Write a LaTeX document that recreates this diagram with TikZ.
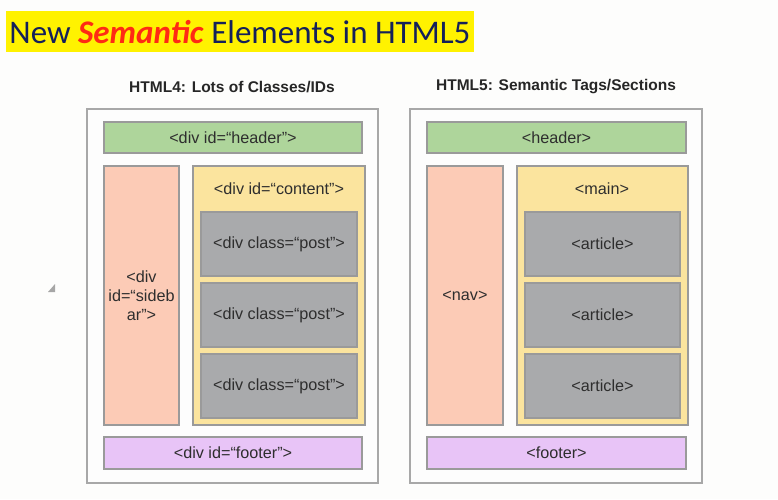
\documentclass[tikz,border=0pt]{standalone}
\usepackage{fontspec}
\setmainfont{Liberation Sans}
\newfontfamily\headfont{Carlito}
\definecolor{pagebg}{HTML}{FDFDFC}
\definecolor{bannerbg}{HTML}{FFF200}
\definecolor{navy}{HTML}{14205A}
\definecolor{hot}{HTML}{FF2A14}
\definecolor{frameline}{HTML}{A8A8A8}
\definecolor{framefill}{HTML}{FDFDFD}
\definecolor{boxline}{HTML}{9A9A9A}
\definecolor{hdr}{HTML}{AED59B}
\definecolor{side}{HTML}{FCCBB6}
\definecolor{cont}{HTML}{FBE49E}
\definecolor{post}{HTML}{A9AAAC}
\definecolor{foot}{HTML}{E8C4F7}
\definecolor{txt}{HTML}{2E2E2E}
\begin{document}
\begin{tikzpicture}[x=1pt,y=-1pt,
  box/.style={draw=boxline,line width=1.2pt,inner sep=0pt,outer sep=0pt,
    anchor=north west,align=center,text=txt,
    font=\fontsize{16.2}{19}\selectfont},
  frame/.style={draw=frameline,fill=framefill,line width=1.4pt,inner sep=0pt,
    outer sep=0pt,anchor=north west},
  panelhead/.style={font=\fontsize{15.5}{18}\selectfont\bfseries,text=black!85},
  lbl/.style={text=txt,font=\fontsize{16.2}{19}\selectfont}]
\useasboundingbox (0,0) rectangle (778,499);
\fill[pagebg] (0,0) rectangle (778,499);

% banner
\fill[bannerbg] (6,11) rectangle (474,52);
\node[text=navy,font=\headfont\fontsize{33}{36}\selectfont] (banner) at (240,32)
  {New \textcolor{hot}{\textbf{\textit{Semantic}}} Elements in HTML5};

% small marker on the left
\fill[gray!70] (48,292) -- (55,292) -- (55,284) -- cycle;

% ---------- HTML4 layout ----------
\node[panelhead] (t4) at (232,87) {HTML4: Lots of Classes/IDs};
\node[frame,minimum width=291pt,minimum height=374pt] (frameL) at (87,109) {};
\node[box,fill=hdr,minimum width=258pt,minimum height=31pt] (headL) at (104,122) {<div id=“header”>};
\node[box,fill=side,minimum width=75pt,minimum height=259pt] (sideL) at (104,166) {<div\\id=“sideb\\ar”>};
\node[box,fill=cont,minimum width=172pt,minimum height=259pt] (contL) at (193,166) {};
\node[lbl] (contLbl) at (279,189) {<div id=“content”>};
\node[box,fill=post,minimum width=156pt,minimum height=64pt] (postA) at (201,212) {<div class=“post”>};
\node[box,fill=post,minimum width=156pt,minimum height=64pt] (postB) at (201,283) {<div class=“post”>};
\node[box,fill=post,minimum width=156pt,minimum height=64pt] (postC) at (201,354) {<div class=“post”>};
\node[box,fill=foot,minimum width=258pt,minimum height=32pt] (footL) at (104,437) {<div id=“footer”>};

% ---------- HTML5 layout ----------
\node[panelhead] (t5) at (556,87) {HTML5: Semantic Tags/Sections};
\node[frame,minimum width=292pt,minimum height=374pt] (frameR) at (410,109) {};
\node[box,fill=hdr,minimum width=259pt,minimum height=31pt] (headR) at (427,122) {<header>};
\node[box,fill=side,minimum width=76pt,minimum height=259pt] (navR) at (427,166) {<nav>};
\node[box,fill=cont,minimum width=171pt,minimum height=259pt] (mainR) at (517,166) {};
\node[lbl] (mainLbl) at (602,189) {<main>};
\node[box,fill=post,minimum width=155pt,minimum height=64pt] (artA) at (525,212) {<article>};
\node[box,fill=post,minimum width=155pt,minimum height=64pt] (artB) at (525,283) {<article>};
\node[box,fill=post,minimum width=155pt,minimum height=64pt] (artC) at (525,354) {<article>};
\node[box,fill=foot,minimum width=259pt,minimum height=32pt] (footR) at (427,437) {<footer>};
\end{tikzpicture}
\end{document}
